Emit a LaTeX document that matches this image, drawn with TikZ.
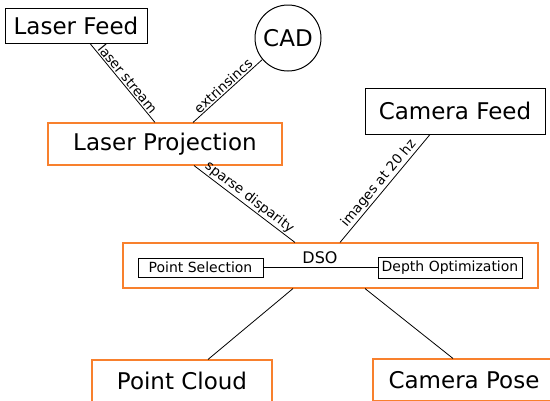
\documentclass[tikz,border=0pt]{standalone}
\usepackage{fontspec}
\setmainfont{DejaVu Sans}
\usetikzlibrary{calc}
\definecolor{boxorange}{RGB}{248,128,45}
\tikzset{
  blackbox/.style={draw=black, line width=1pt, inner sep=0pt, font=\fontsize{23}{26}\selectfont},
  orangebox/.style={draw=boxorange, line width=1.1pt, inner sep=0pt, font=\fontsize{23}{26}\selectfont},
  smallbox/.style={draw=black, line width=0.9pt, inner sep=0pt, font=\fontsize{14}{16}\selectfont},
  conn/.style={draw=black, line width=0.8pt},
  elabel/.style={sloped, above, inner sep=1.2pt, font=\fontsize{13.5}{15}\selectfont}
}
\begin{document}
\begin{tikzpicture}[x=1pt,y=-1pt]
\useasboundingbox (0,0) rectangle (550,400);
\clip (0,0) rectangle (550,400);
\node[blackbox, minimum width=142pt, minimum height=35pt] (lf) at (76,25.5) {Laser Feed};
\node[draw=black, line width=1pt, circle, minimum size=66pt, inner sep=0pt, font=\fontsize{23}{26}\selectfont] (cad) at (288,38) {CAD};
\node[orangebox, minimum width=234pt, minimum height=42pt] (lp) at (165,144) {Laser Projection};
\node[blackbox, minimum width=180pt, minimum height=46pt] (cf) at (455,111) {Camera Feed};
\node[orangebox, minimum width=415pt, minimum height=45pt] (dso) at (330.5,265.5) {};
\node[font=\fontsize{16}{18}\selectfont, inner sep=0pt] (dsolabel) at (320,258) {DSO};
\node[smallbox, minimum width=125pt, minimum height=19pt] (ps) at (200.5,267.5) {Point Selection};
\node[smallbox, minimum width=144pt, minimum height=21pt] (do) at (450,267.5) {Depth Optimization};
\node[orangebox, minimum width=180pt, minimum height=42pt] (pc) at (182,381) {Point Cloud};
\node[orangebox, minimum width=182pt, minimum height=42pt] (cp) at (464,380) {Camera Pose};

\draw[conn] (ps) -- (do);
\draw[conn] (lf.south -| 90,0) -- node[elabel] {laser stream} (lp.north -| 155,0);
\draw[conn] (lp.north -| 193,0) -- node[elabel] {extrinsincs} (cad.-140);
\draw[conn] (lp.south -| 194,0) -- node[elabel] {sparse disparity} (dso.north -| 295,0);
\draw[conn] (dso.north -| 340,0) -- node[elabel] {images at 20 hz} (cf.south -| 430,0);
\draw[conn] (dso.south -| 293,0) -- (pc.north -| 208,0);
\draw[conn] (dso.south -| 365,0) -- (cp.north -| 453,0);
\end{tikzpicture}
\end{document}
